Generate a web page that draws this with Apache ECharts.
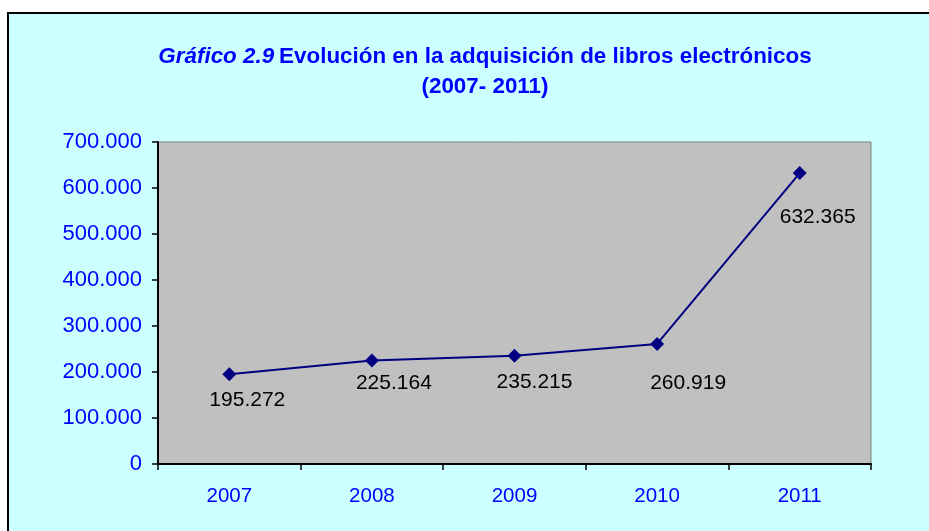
<!DOCTYPE html>
<html>
<head>
<meta charset="utf-8">
<script src="https://cdn.jsdelivr.net/npm/echarts@6/dist/echarts.min.js"></script>
<style>
  html, body { margin: 0; padding: 0; background: #fff; overflow: hidden; }
  #frame {
    position: absolute; left: 7px; top: 12px; width: 1000px; height: 1000px;
    background: #ccffff; border-left: 2px solid #000; border-top: 2px solid #000;
  }
  #chart { position: absolute; left: 0; top: 0; width: 929px; height: 531px; }
</style>
</head>
<body>
<div id="frame"></div>
<div id="chart"></div>
<script>
// datos del gráfico
var years = ['2007', '2008', '2009', '2010', '2011']
var libros = [195272, 225164, 235215, 260919, 632365]
// desplazamiento de cada etiqueta respecto al punto
var labelOffsets = [[18, 26], [22, 23], [20, 26], [31, 39], [18, 44]]

function fmt (v) {
  return String(v).replace(/\B(?=(\d{3})+(?!\d))/g, '.')
}

var myChart = echarts.init(document.getElementById('chart'))
myChart.setOption({
  backgroundColor: 'transparent',
  title: {
    text: '{it|Gráfico 2.9} {b|Evolución en la adquisición de libros electrónicos}\n{b|(2007- 2011)}',
    left: 480,
    top: 37,
    textAlign: 'center',
    textStyle: {
      rich: {
        it: { fontFamily: 'Liberation Sans', fontSize: 22.4, fontWeight: 'bold', fontStyle: 'italic', color: '#0000ff', lineHeight: 30 },
        b: { fontFamily: 'Liberation Sans', fontSize: 22.4, fontWeight: 'bold', color: '#0000ff', lineHeight: 30 }
      }
    }
  },
  grid: {
    left: 158,
    right: 58,
    top: 142,
    bottom: 67,
    show: true,
    backgroundColor: '#c0c0c0',
    borderColor: '#808080',
    borderWidth: 1
  },
  xAxis: {
    type: 'category',
    data: years,
    boundaryGap: true,
    axisLine: { lineStyle: { color: '#000', width: 2 } },
    axisTick: { show: true, length: 6, lineStyle: { color: '#000', width: 1.5 } },
    axisLabel: { color: '#0000ff', fontFamily: 'Liberation Sans', fontSize: 20.5, margin: 22 }
  },
  yAxis: {
    type: 'value',
    min: 0,
    max: 700000,
    interval: 100000,
    axisLine: { show: true, lineStyle: { color: '#000', width: 2 } },
    axisTick: { show: true, length: 6, lineStyle: { color: '#000', width: 1.5 } },
    splitLine: { show: false },
    axisLabel: {
      color: '#0000ff',
      fontFamily: 'Liberation Sans',
      fontSize: 22,
      margin: 16,
      formatter: function (v) { return fmt(v) }
    }
  },
  series: [
    {
      type: 'line',
      data: libros.map(function (v, i) {
        return { value: v, label: { offset: labelOffsets[i] } }
      }),
      symbol: 'diamond',
      symbolSize: 14,
      itemStyle: { color: '#000080' },
      lineStyle: { color: '#000080', width: 2 },
      label: {
        show: true,
        position: 'inside',
        color: '#000',
        fontFamily: 'Liberation Sans',
        fontSize: 21,
        formatter: function (p) { return fmt(p.value) }
      },
      animation: false
    }
  ]
})
</script>
</body>
</html>
